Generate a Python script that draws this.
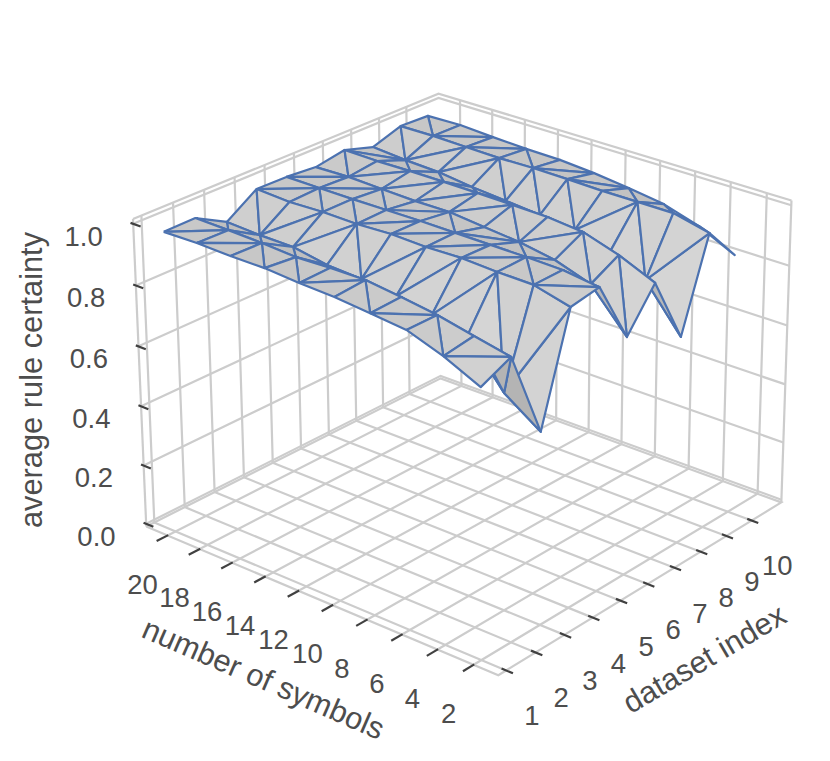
import numpy as np, pandas as pd, altair as alt

symbols = [20,18,16,14,12,10,8,6,4,2]
datasets = [1,2,3,4,5,6,7,8,9,10]
zticks = [0.0,0.2,0.4,0.6,0.8,1.0]
z_s20 = [0.988,0.990,0.935,1.001,1.000,0.992,1.009,0.979,1.011,1.007]
z_s18 = [0.990,0.988,0.929,0.995,0.999,0.995,1.007,0.970,1.012,1.010]
z_s16 = [0.986,0.984,0.928,0.999,0.999,0.991,1.009,0.965,1.009,1.003]
z_s14 = [0.986,0.977,0.908,0.997,1.000,0.987,1.009,0.951,1.007,0.998]
z_s12 = [0.978,0.981,0.901,1.002,1.001,0.988,1.008,0.941,1.009,0.996]
z_s10 = [0.973,0.981,0.886,0.998,1.000,0.976,1.006,0.931,1.008,0.987]
z_s8  = [0.962,0.967,0.865,1.001,0.999,0.965,1.003,0.918,1.005,0.973]
z_s6  = [0.950,0.950,0.841,0.995,0.998,0.945,0.992,0.884,1.005,0.956]
z_s4  = [0.910,0.925,0.699,0.993,0.995,0.906,0.955,0.830,1.005,0.920]
z_s2  = [0.856,0.901,0.618,0.963,0.980,0.776,0.904,0.683,0.977,0.862]
Z = np.array([z_s20,z_s18,z_s16,z_s14,z_s12,z_s10,z_s8,z_s6,z_s4,z_s2])
DIAG = ["HHVVHVHVH","VVVVVVVVV","VHHVHHHVH","HVVHHHHVH","HHVHVHVHV","VHHHHVHVV","HVVVVVVVV","VHHVVVHVH","VHHVHHVVV"]

cube = [(0,0,0),(1,0,0),(1,1,0),(0,1,0),(0,0,1),(0,1,1),(1,1,1)]
pix = [(147.5,529.5),(497,674),(782,503),(440,376),(133,217),(438,95),(792,201)]
A=[]
for (a,b,c),(px,py) in zip(cube,pix):
    A.append([a,b,c,1,0,0,0,0,-px*a,-px*b,-px*c,-px])
    A.append([0,0,0,0,a,b,c,1,-py*a,-py*b,-py*c,-py])
P = np.linalg.svd(np.array(A,float))[2][-1].reshape(3,4)
C = np.linalg.svd(P)[2][-1]; C = C[:3]/C[3]
def proj(u,v,w):
    h = P@np.array([u,v,w,1.0])
    return h[0]/h[2], h[1]/h[2]
fu = lambda s:(21.35-s)/20.7
fv = lambda d:(d-0.738)/10.46
fw = lambda z:0.009+0.976*z

def add(df,name,pts):
    for k,(u,v,w) in enumerate(pts):
        x,y=proj(u,v,w); df.append(dict(x=x,y=y,id=name,k=k))
grid=[]
add(grid,"e1",[(0,0,0),(1,0,0),(1,1,0),(0,1,0),(0,0,0)])
add(grid,"e2",[(0,0,1),(0,1,1),(1,1,1)])
add(grid,"e3",[(0,0,0),(0,0,1)])
add(grid,"e4",[(1,1,0),(1,1,1)])
for s in symbols:
    u=fu(s); add(grid,f"s{s}",[(u,0,0),(u,1,0),(u,1,1)])
for d in datasets:
    v=fv(d); add(grid,f"d{d}",[(1,v,0),(0,v,0),(0,v,1)])
for z in zticks:
    w=fw(z); add(grid,f"z{z}",[(0,0,w),(0,1,w),(1,1,w)])
ticks=[]
labels=[]
for s in symbols:
    u=fu(s); add(ticks,f"s{s}",[(u,0.002,0),(u,-0.034,0)])
    x,y=proj(u,-0.016,0); labels.append(dict(x=x-20,y=y+47.5,t=str(s)))
for d in datasets:
    v=fv(d); add(ticks,f"d{d}",[(0.988,v,0),(1.018,v,0)])
    x,y=proj(1.003,v,0); labels.append(dict(x=x+24.5,y=y+46.5,t=str(d)))
for z in zticks:
    w=fw(z); add(ticks,f"z{z}",[(-0.008,0,w),(0.022,0,w)])
    x,y=proj(0.007,0,w); labels.append(dict(x=x-52,y=y+13,t=f"{z:.1f}"))

tris=[]
for j in range(9):
    for i in range(9):
        a,b,c,d=(i,j),(i+1,j),(i+1,j+1),(i,j+1)
        if DIAG[j][i]=="H": tris+= [(a,b,c),(a,c,d)]
        else: tris+= [(a,b,d),(b,c,d)]
def pt(n): return np.array([fu(symbols[n[0]]),fv(datasets[n[1]]),fw(Z[n])])
L=np.array([0.5,-0.7,0.5]); L/=np.linalg.norm(L)
items=[]
for t in tris:
    p=[pt(n) for n in t]
    q=[x*np.array([1,1,.75]) for x in p]
    n=np.cross(q[1]-q[0],q[2]-q[0]); n/=np.linalg.norm(n)
    if n[2]<0: n=-n
    g=int(np.clip(186+28*(n@L),180,216))
    dist=np.linalg.norm(sum(p)/3-C)
    items.append((dist,p,g))
items.sort(key=lambda a:-a[0])
surf=[]
for m,(dist,p,g) in enumerate(items):
    for k,q in enumerate(p+[p[0]]):
        x,y=proj(*q); surf.append(dict(x=x,y=y,id=m,k=k,c=f"rgb({g},{g},{g})"))

W,H=812,742
X=alt.X("x:Q",scale=alt.Scale(domain=[8,8+W],range=[0,W]),axis=None)
YY=alt.Y("y:Q",scale=alt.Scale(domain=[8,8+H],range=[0,H]),axis=None)
g=alt.Chart(pd.DataFrame(grid)).mark_line(color="#cccccc",strokeWidth=2.2,strokeJoin="miter").encode(x=X,y=YY,detail="id:N",order="k:Q")
tk=alt.Chart(pd.DataFrame(ticks)).mark_line(color="#404040",strokeWidth=2.2).encode(x=X,y=YY,detail="id:N",order="k:Q")
sf=alt.Chart(pd.DataFrame(surf)).mark_line(strokeWidth=2.2,strokeJoin="round",stroke="#4c72b0").encode(x=X,y=YY,detail="id:Q",order="k:Q",fill=alt.Fill("c:N",scale=None))
txt=alt.Chart(pd.DataFrame(labels)).mark_text(font="Liberation Sans",fontSize=27.5,color="#4d4d4d",align="center",baseline="middle").encode(x=X,y=YY,text="t:N")
titles=[("number of symbols",263,680,23.5),("dataset index",705,660,329.5),("average rule certainty",33,380,270)]
tl=[]
for t,x,y,a in titles:
    tl.append(alt.Chart(pd.DataFrame([dict(x=x,y=y,t=t)])).mark_text(font="Liberation Sans",fontSize=30.8,color="#4d4d4d",align="center",baseline="middle",angle=a).encode(x=X,y=YY,text="t:N"))
chart=alt.layer(g,tk,sf,txt,*tl).properties(width=W,height=H,padding=0,autosize=alt.AutoSizeParams(type="none")).configure_view(stroke=None)
chart.save("out.html",embed_options={"renderer":"svg","actions":False})
